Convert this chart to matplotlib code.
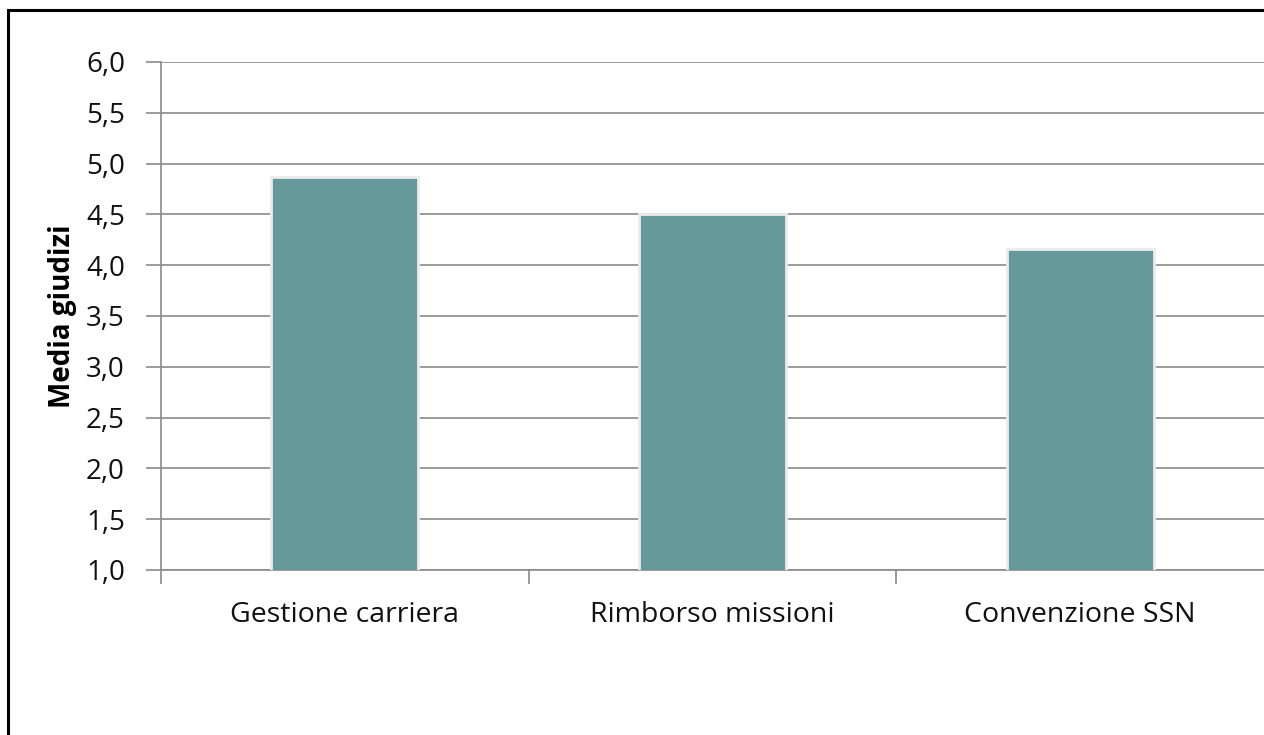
import numpy as np
import matplotlib
matplotlib.use("Agg")
from matplotlib import pyplot as plt
from matplotlib.patches import Rectangle
from matplotlib.ticker import FuncFormatter, FixedLocator

categories = ["Gestione carriera", "Rimborso missioni", "Convenzione SSN"]
values = [4.87, 4.50, 4.16]
yticks = [1.0, 1.5, 2.0, 2.5, 3.0, 3.5, 4.0, 4.5, 5.0, 5.5, 6.0]

plt.rcParams['font.family'] = ['Open Sans', 'DejaVu Sans']

W, H = 1264, 735
fig = plt.figure(figsize=(W / 100, H / 100), dpi=100)
ax = fig.add_axes([161 / W, 165 / H, 1103 / W, 508 / H])

x = np.arange(len(categories))
ax.bar(x, values, width=0.40, bottom=0, color='#669999', edgecolor='#ececec',
       linewidth=2, zorder=3)

ax.set_xlim(-0.5, len(categories) - 0.5)
ax.set_ylim(1.0, 6.0)
ax.set_yticks(yticks)
ax.yaxis.set_major_formatter(FuncFormatter(lambda v, p: ("%.1f" % v).replace('.', ',')))
ax.yaxis.grid(True, color='#8a8a8a', linewidth=1.2, zorder=0)
ax.set_axisbelow(True)

# category labels centred, tick marks on the boundaries
ax.set_xticks(x)
ax.set_xticklabels(categories, fontsize=20.5, color='#111111')
ax.tick_params(axis='x', which='major', length=0, pad=22)
ax.xaxis.set_minor_locator(FixedLocator(np.arange(len(categories)) - 0.5))
ax.tick_params(axis='x', which='minor', length=10, width=1.2, color='#8a8a8a')
ax.tick_params(axis='y', length=11, width=1.2, color='#8a8a8a', labelsize=20,
               labelcolor='#111111', pad=15)

for s in ['top', 'right']:
    ax.spines[s].set_visible(False)
for s in ['left', 'bottom']:
    ax.spines[s].set_color('#8a8a8a')
    ax.spines[s].set_linewidth(1.2)

ax.set_ylabel('Media giudizi', fontsize=20, fontweight='bold')
ax.yaxis.set_label_coords(-0.076, 0.5)

# outer frame of the chart
fig.patches.append(Rectangle((8 / W, -0.1), 2, (H - 10) / H + 0.1, transform=fig.transFigure,
                             fill=False, edgecolor='black', linewidth=2.2))

fig.savefig("out.png", dpi=100)
